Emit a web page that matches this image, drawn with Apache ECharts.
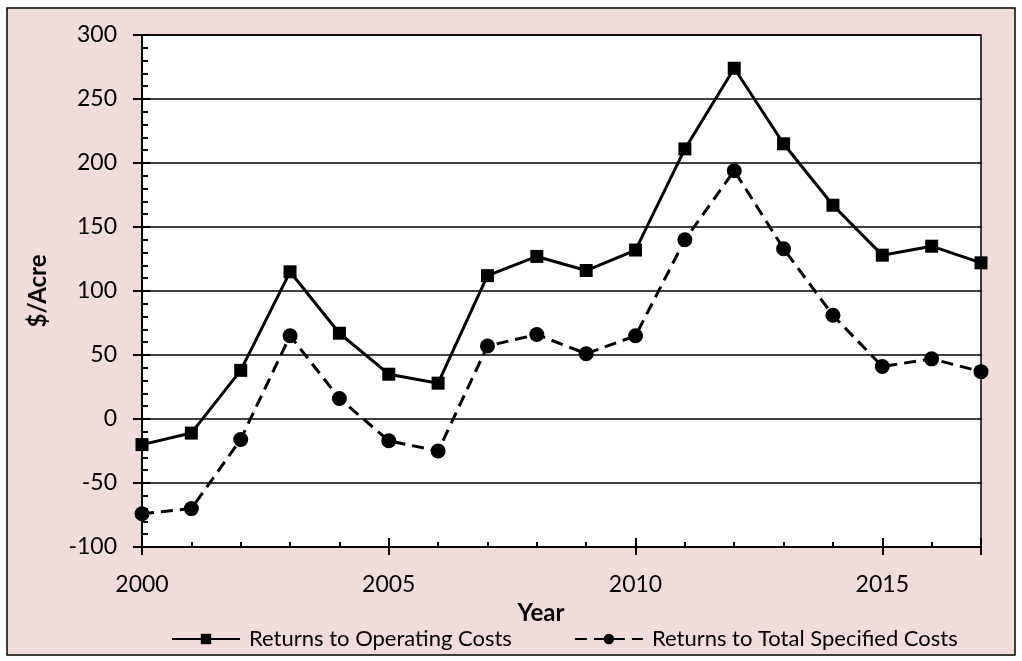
<!DOCTYPE html>
<html>
<head>
<meta charset="utf-8">
<script src="https://cdn.jsdelivr.net/npm/echarts@6/dist/echarts.min.js"></script>
<style>
html,body{margin:0;padding:0;background:#fff;}
#c{width:1022px;height:661px;}
</style>
</head>
<body>
<div id="c"></div>
<script>
const years = [2000,2001,2002,2003,2004,2005,2006,2007,2008,2009,2010,2011,2012,2013,2014,2015,2016,2017];
const operating = [-20,-11,38,115,67,35,28,112,127,116,132,211,274,215,167,128,135,122];
const totalSpecified = [-74,-70,-16,65,16,-17,-25,57,66,51,65,140,194,133,81,41,47,37];
const yTicks = [-100,-50,0,50,100,150,200,250,300];
const xTicks = [2000,2005,2010,2015];
const seriesNames = ['Returns to Operating Costs','Returns to Total Specified Costs'];

const FONT = 'Lato';
const chart = echarts.init(document.getElementById('c'));
const pair = (xs, ys) => xs.map((x,i)=>[x, ys[i]]);

const option = {
  backgroundColor: '#ffffff',
  animation: false,
  textStyle: {fontFamily: FONT},
  graphic: {elements: [{
    type: 'rect', z: -100, silent: true,
    shape: {x: 7, y: 8, width: 1008, height: 647},
    style: {fill: '#f2dcdb', stroke: '#000', lineWidth: 1.5}
  }]},
  grid: {
    left: 142, right: 41, top: 35, bottom: 114,
    show: true, backgroundColor: '#ffffff', borderColor: '#000', borderWidth: 1.5,
    containLabel: false
  },
  legend: {
    data: seriesNames,
    bottom: 6,
    left: 166,
    itemWidth: 68, itemHeight: 13, itemGap: 62,
    textStyle: {fontFamily: FONT, fontSize: 22, color: '#000', padding: [0,0,0,4]},
  },
  xAxis: [{
    type: 'value', min: years[0], max: years[years.length-1], interval: 5,
    position: 'bottom',
    name: 'Year', nameLocation: 'middle', nameGap: 50,
    nameTextStyle: {fontFamily: FONT, fontSize: 24, fontWeight: 'bold', color: '#000', padding: [0,41,0,0]},
    axisLine: {show: true, onZero: false, lineStyle: {color: '#000', width: 2}},
    axisTick: {show: true, inside: true, length: 9, lineStyle: {color: '#000', width: 2}},
    minorTick: {show: true, splitNumber: 5, length: 5, lineStyle: {color: '#000', width: 2}},
    axisLabel: {fontFamily: FONT, fontSize: 23, color: '#000', margin: 26,
      customValues: xTicks, formatter: v => String(v)},
    splitLine: {show: false}
  },{
    type: 'value', min: years[0], max: years[years.length-1], interval: 5,
    position: 'bottom',
    axisLine: {show: false, onZero: false},
    axisTick: {show: true, inside: false, length: 8, lineStyle: {color: '#000', width: 2}},
    axisLabel: {show: false},
    splitLine: {show: false}
  }],
  yAxis: [{
    type: 'value', min: yTicks[0], max: yTicks[yTicks.length-1], interval: 50,
    name: '$/Acre', nameLocation: 'middle', nameGap: 92, nameRotate: 90,
    nameTextStyle: {fontFamily: FONT, fontSize: 24, fontWeight: 'bold', color: '#000'},
    axisLine: {show: true, onZero: false, lineStyle: {color: '#000', width: 2}},
    axisTick: {show: true, inside: true, length: 8, lineStyle: {color: '#000', width: 2}},
    minorTick: {show: true, splitNumber: 5, length: 6, lineStyle: {color: '#000', width: 2}},
    axisLabel: {fontFamily: FONT, fontSize: 23, color: '#000', margin: 25},
    splitLine: {show: true, lineStyle: {color: '#000', width: 1.5}}
  },{
    type: 'value', min: yTicks[0], max: yTicks[yTicks.length-1], interval: 50,
    position: 'left',
    axisLine: {show: false, onZero: false},
    axisTick: {show: true, inside: false, length: 9, lineStyle: {color: '#000', width: 2}},
    axisLabel: {show: false},
    splitLine: {show: false}
  }],
  series: [{
    name: seriesNames[0], type: 'line', xAxisIndex: 0, yAxisIndex: 0,
    data: pair(years, operating),
    symbol: 'rect', symbolSize: 13, showSymbol: true,
    lineStyle: {color: '#000', width: 3, type: 'solid'},
    itemStyle: {color: '#000'},
    z: 5
  },{
    name: seriesNames[1], type: 'line', xAxisIndex: 0, yAxisIndex: 0,
    data: pair(years, totalSpecified),
    symbol: 'circle', symbolSize: 15, showSymbol: true,
    lineStyle: {color: '#000', width: 3, type: [12, 7]},
    itemStyle: {color: '#000'},
    z: 4
  }]
};
chart.setOption(option);
</script>
</body>
</html>
